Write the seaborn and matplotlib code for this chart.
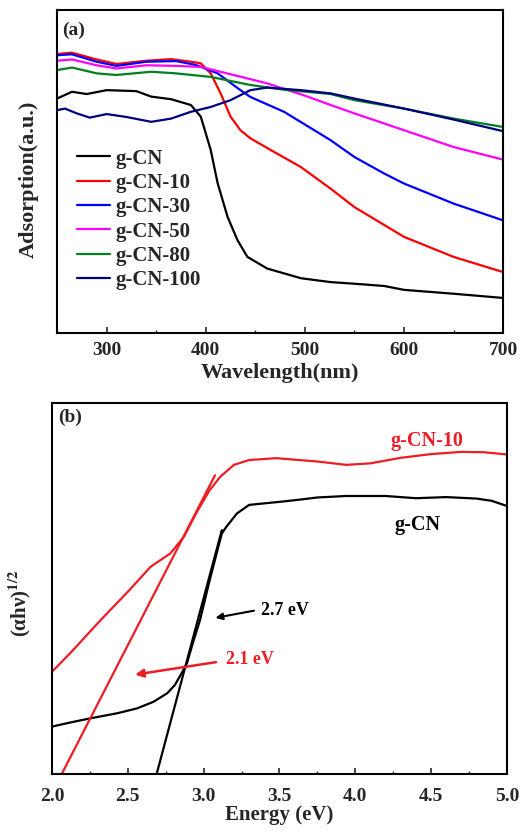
import numpy as np
import pandas as pd
import matplotlib
matplotlib.use('Agg')
import matplotlib.pyplot as plt
import seaborn as sns

sns.set_style('white')
plt.rcParams['font.family'] = ['Liberation Serif', 'DejaVu Serif']
plt.rcParams['font.weight'] = 'bold'
plt.rcParams['mathtext.fontset'] = 'stix'

# ---- panel (a): UV-vis absorption ----
wl_cn = [250, 265, 280, 300, 330, 345, 365, 385, 395, 405, 412, 422, 432, 442, 462, 496, 526, 550, 580, 600, 650, 700]
ab_cn = [72.6, 74.7, 74.0, 75.2, 74.9, 73.2, 72.4, 70.6, 67.0, 56.7, 46.4, 36.0, 28.8, 23.6, 20.0, 17.0, 15.8, 15.3, 14.6, 13.4, 12.2, 10.9]

wl_10 = [250, 265, 290, 310, 340, 365, 385, 395, 405, 415, 425, 435, 445, 466, 496, 526, 550, 600, 650, 700]
ab_10 = [86.4, 86.8, 84.7, 83.3, 84.3, 84.8, 84.0, 83.5, 80.4, 74.2, 67.0, 62.8, 60.3, 56.6, 51.4, 44.7, 39.0, 29.8, 23.6, 18.9]

wl_30 = [250, 265, 290, 310, 340, 370, 390, 412, 435, 445, 479, 526, 550, 580, 600, 650, 700]
ab_30 = [86.0, 86.3, 84.0, 82.7, 84.0, 84.2, 83.0, 80.4, 75.2, 73.1, 68.5, 59.7, 54.5, 49.4, 46.3, 40.1, 34.9]

wl_50 = [250, 265, 290, 310, 340, 370, 395, 428, 462, 500, 526, 550, 600, 650, 700]
ab_50 = [84.3, 84.7, 82.9, 81.9, 82.9, 82.7, 82.4, 79.9, 77.3, 73.5, 70.6, 68.0, 62.8, 57.6, 53.7]

wl_80 = [250, 265, 290, 310, 345, 370, 405, 445, 480, 526, 550, 600, 650, 700]
ab_80 = [81.4, 82.2, 80.4, 79.9, 80.9, 80.4, 79.3, 76.8, 75.3, 74.0, 72.1, 69.5, 66.4, 63.8]

wl_100 = [250, 258, 270, 283, 300, 320, 345, 365, 385, 405, 425, 445, 462, 496, 526, 550, 600, 650, 700]
ab_100 = [69.0, 69.5, 68.0, 66.7, 67.8, 66.9, 65.4, 66.4, 68.5, 70.0, 72.1, 75.2, 76.0, 75.2, 74.2, 72.6, 69.5, 66.1, 62.5]

names_a = ['g-CN', 'g-CN-10', 'g-CN-30', 'g-CN-50', 'g-CN-80', 'g-CN-100']
colors_a = ['black', '#ff0000', '#0000ff', '#ff00ff', '#008020', '#000080']

# ---- panel (b): Tauc plot ----
e_cn = [2.0, 2.12, 2.25, 2.43, 2.56, 2.67, 2.76, 2.81, 2.855, 2.89, 2.93, 2.976, 3.04, 3.12, 3.15, 3.22, 3.3, 3.52, 3.63, 3.75, 3.94, 4.2, 4.4, 4.6, 4.8, 4.9, 5.0]
t_cn = [12.8, 13.9, 15.0, 16.4, 17.7, 19.5, 21.8, 24.0, 27.2, 29.9, 35.5, 41.5, 52.3, 64.9, 66.7, 70.3, 72.6, 73.5, 74.0, 74.6, 75.0, 75.0, 74.4, 74.7, 74.3, 73.7, 72.3]

e_10 = [2.0, 2.12, 2.32, 2.51, 2.65, 2.78, 2.87, 2.95, 3.04, 3.11, 3.2, 3.3, 3.48, 3.75, 3.94, 4.1, 4.3, 4.5, 4.7, 4.85, 5.0]
t_10 = [27.6, 32.6, 41.5, 49.6, 55.9, 59.5, 64.0, 70.3, 76.6, 80.2, 83.4, 84.7, 85.2, 84.3, 83.4, 83.8, 85.3, 86.3, 86.9, 86.8, 86.2]

# tangent (extrapolation) lines
fit_cn_x = [2.69, 3.12]
fit_cn_y = [0.0, 65.8]
fit_10_x = [2.064, 3.075]
fit_10_y = [0.0, 80.6]

red_b = '#ee1c24'

fig = plt.figure(figsize=(5.28, 8.35), dpi=100)
ax1 = fig.add_axes([0.108, 0.601, 0.845, 0.387])
ax2 = fig.add_axes([0.0985, 0.073, 0.8615, 0.444])

series_a = [(wl_cn, ab_cn), (wl_10, ab_10), (wl_30, ab_30), (wl_50, ab_50), (wl_80, ab_80), (wl_100, ab_100)]
for (xs, ys), name, c in zip(series_a, names_a, colors_a):
    sns.lineplot(x=xs, y=ys, color=c, lw=1.6, label=name, ax=ax1, sort=False)

ax1.set_xlim(250, 700)
ax1.set_ylim(0, 100)
ax1.set_yticks([])
ax1.set_xticks([300, 400, 500, 600, 700])
ax1.set_xticks(np.arange(250, 701, 50), minor=True)
ax1.set_xlabel('Wavelength(nm)', fontsize=16, fontweight='bold', labelpad=3)
ax1.set_ylabel('Adsorption(a.u.)', fontsize=16, fontweight='bold')
ax1.yaxis.set_label_coords(-0.04, 0.477)
ax1.text(0.011, 0.965, '(a)', transform=ax1.transAxes, fontsize=14, fontweight='bold', va='top')
leg = ax1.legend(loc='upper left', bbox_to_anchor=(0.026, 0.597), frameon=False, fontsize=15,
                 handlelength=1.6, labelspacing=0.21, handletextpad=0.25, borderaxespad=0)
for t in leg.get_texts():
    t.set_fontweight('bold')

sns.lineplot(x=e_cn, y=t_cn, color='black', lw=1.6, ax=ax2, sort=False)
sns.lineplot(x=e_10, y=t_10, color=red_b, lw=1.6, ax=ax2, sort=False)
sns.lineplot(x=fit_cn_x, y=fit_cn_y, color='black', lw=1.6, ax=ax2)
sns.lineplot(x=fit_10_x, y=fit_10_y, color=red_b, lw=1.6, ax=ax2)

ax2.annotate('', xy=(3.06, 42.0), xytext=(3.35, 44.2),
             arrowprops=dict(arrowstyle='-|>', color='black', lw=1.5, mutation_scale=10))
ax2.text(3.38, 44.2, '2.7 eV', color='black', fontsize=13, fontweight='bold', va='center')
ax2.annotate('', xy=(2.53, 26.7), xytext=(3.1, 30.3),
             arrowprops=dict(arrowstyle='-|>', color=red_b, lw=1.8, mutation_scale=12))
ax2.text(3.15, 31.0, '2.1 eV', color=red_b, fontsize=13, fontweight='bold', va='center')
ax2.text(4.23, 89.7, 'g-CN-10', color=red_b, fontsize=14.5, fontweight='bold', va='center')
ax2.text(4.26, 67.2, 'g-CN', color='black', fontsize=14.5, fontweight='bold', va='center')
ax2.text(0.014, 0.985, '(b)', transform=ax2.transAxes, fontsize=14, fontweight='bold', va='top')

ax2.set_xlim(2.0, 5.0)
ax2.set_ylim(0, 100)
ax2.set_yticks([])
ax2.set_xticks([2.0, 2.5, 3.0, 3.5, 4.0, 4.5, 5.0])
ax2.set_xticks(np.arange(2.0, 5.01, 0.25), minor=True)
ax2.set_xticklabels(['2.0', '2.5', '3.0', '3.5', '4.0', '4.5', '5.0'])
ax2.set_xlabel('Energy (eV)', fontsize=15, fontweight='bold', labelpad=0)
ax2.set_ylabel('(αhν)$^{1/2}$', fontsize=15, fontweight='bold')
ax2.yaxis.set_label_coords(-0.042, 0.46)

for ax, pad in ((ax1, 6.5), (ax2, 10)):
    for s in ax.spines.values():
        s.set_linewidth(1.5)
        s.set_color('black')
    ax.tick_params(axis='x', which='major', direction='in', length=4, width=1.2, labelsize=14, pad=pad)
    ax.tick_params(axis='x', which='minor', direction='in', length=2.5, width=1.0)
    ax.tick_params(axis='x', bottom=True, which='both')
    for lb in ax.get_xticklabels():
        lb.set_fontweight('bold')

fig.savefig('out.png', dpi=100)
